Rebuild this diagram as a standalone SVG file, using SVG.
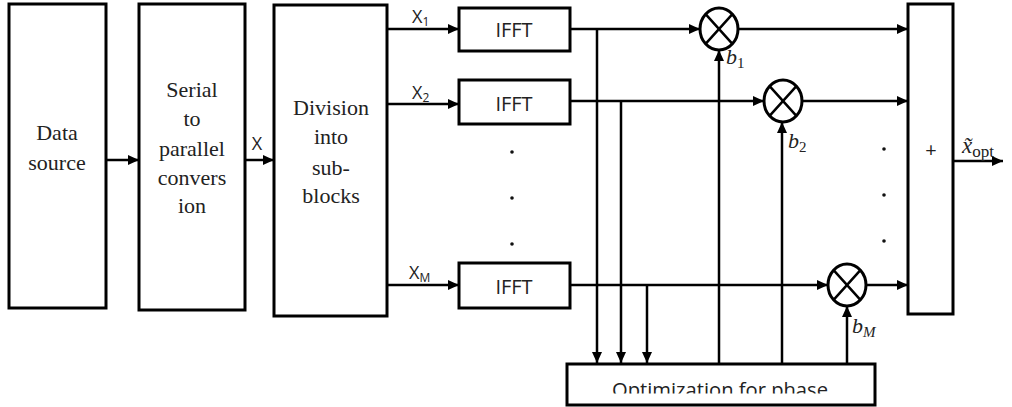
<svg xmlns="http://www.w3.org/2000/svg" width="1012" height="407" viewBox="0 0 1012 407">
<style>
.box{fill:#fff;stroke:#000;stroke-width:3}
.ln{fill:none;stroke:#000;stroke-width:2.5}
.arr{marker-end:url(#ah)}
.serif{font-family:"Liberation Serif","Times New Roman",serif;font-size:22px;fill:#222;text-anchor:middle}
.sans{font-family:"Open Sans","Liberation Sans",sans-serif;fill:#222}
.math{font-family:"Liberation Serif","DejaVu Serif",serif;font-style:italic;fill:#222}
.mul{fill:#fff;stroke:#000;stroke-width:3}
.dot{fill:#111}
</style>
<defs>
<marker id="ah" markerUnits="userSpaceOnUse" markerWidth="11" markerHeight="10" refX="11" refY="5" orient="auto">
<path d="M0,0 L11,5 L0,10 z" fill="#000"/>
</marker>
<clipPath id="optclip"><rect x="567" y="364" width="308" height="29.5"/></clipPath>
</defs>
<g id="connectors">
<line class="ln arr" x1="106" y1="160" x2="139" y2="160"/>
<line class="ln arr" x1="245" y1="160" x2="274" y2="160"/>
<line class="ln arr" x1="387" y1="29" x2="459" y2="29"/>
<line class="ln arr" x1="387" y1="104" x2="459" y2="104"/>
<line class="ln arr" x1="387" y1="285" x2="459" y2="285"/>
<line class="ln arr" x1="570" y1="29" x2="700" y2="29"/>
<line class="ln arr" x1="570" y1="101" x2="764" y2="101"/>
<line class="ln arr" x1="570" y1="285" x2="828" y2="285"/>
<line class="ln arr" x1="738" y1="29" x2="908" y2="29"/>
<line class="ln arr" x1="802" y1="101" x2="908" y2="101"/>
<line class="ln arr" x1="866" y1="285" x2="908" y2="285"/>
<line class="ln arr" x1="597" y1="29" x2="597" y2="363"/>
<line class="ln arr" x1="621" y1="101" x2="621" y2="363"/>
<line class="ln arr" x1="647" y1="285" x2="647" y2="363"/>
<line class="ln arr" x1="719" y1="363" x2="719" y2="50"/>
<line class="ln arr" x1="782" y1="363" x2="782" y2="122"/>
<line class="ln arr" x1="847" y1="363" x2="847" y2="306"/>
<line class="ln arr" x1="953" y1="161" x2="1003" y2="161"/>
</g>
<g id="data-source">
<rect class="box" x="9" y="4" width="97" height="304"/>
<text class="serif" x="57" y="140">Data</text>
<text class="serif" x="57" y="170">source</text>
</g>
<g id="serial-parallel">
<rect class="box" x="139" y="4" width="106" height="306"/>
<text class="serif" x="192" y="97">Serial</text>
<text class="serif" x="192" y="126">to</text>
<text class="serif" x="192" y="156">parallel</text>
<text class="serif" x="192" y="185">convers</text>
<text class="serif" x="192" y="213">ion</text>
</g>
<text class="sans" x="257" y="150" font-size="18" text-anchor="middle">X</text>
<g id="division">
<rect class="box" x="274" y="5" width="113" height="311"/>
<text class="serif" x="331" y="115">Division</text>
<text class="serif" x="331" y="144">into</text>
<text class="serif" x="331" y="175">sub-</text>
<text class="serif" x="331" y="203">blocks</text>
</g>
<g id="labels-x">
<text class="sans" x="412" y="23" font-size="18">X<tspan font-size="12" dy="3">1</tspan></text>
<text class="sans" x="412" y="99" font-size="18">X<tspan font-size="12" dy="3">2</tspan></text>
<text class="sans" x="409" y="279" font-size="18">X<tspan font-size="12" dy="3">M</tspan></text>
</g>
<g id="ifft1">
<rect class="box" x="459" y="8" width="111" height="43"/>
<text class="sans" x="514" y="37" font-size="20" text-anchor="middle">IFFT</text>
</g>
<g id="ifft2">
<rect class="box" x="459" y="80" width="111" height="44"/>
<text class="sans" x="514" y="111" font-size="20" text-anchor="middle">IFFT</text>
</g>
<g id="ifftM">
<rect class="box" x="459" y="263" width="111" height="45"/>
<text class="sans" x="514" y="294" font-size="20" text-anchor="middle">IFFT</text>
</g>
<g id="dots-left">
<circle class="dot" cx="512" cy="152" r="1.8"/>
<circle class="dot" cx="512" cy="198" r="1.8"/>
<circle class="dot" cx="512" cy="244" r="1.8"/>
</g>
<g id="mult1">
<ellipse class="mul" cx="719" cy="29" rx="19" ry="21"/>
<path class="ln" d="M705.6,14.2 L732.4,43.8 M732.4,14.2 L705.6,43.8"/>
</g>
<g id="mult2">
<ellipse class="mul" cx="783" cy="101" rx="19" ry="21"/>
<path class="ln" d="M769.6,86.2 L796.4,115.8 M796.4,86.2 L769.6,115.8"/>
</g>
<g id="multM">
<ellipse class="mul" cx="847" cy="285" rx="19" ry="21"/>
<path class="ln" d="M833.6,270.2 L860.4,299.8 M860.4,270.2 L833.6,299.8"/>
</g>
<g id="labels-b">
<text class="math" x="726" y="64" font-size="22">b<tspan font-style="normal" font-size="15" dy="4">1</tspan></text>
<text class="math" x="788" y="148" font-size="22">b<tspan font-style="normal" font-size="15" dy="4">2</tspan></text>
<text class="math" x="852" y="333" font-size="22">b<tspan font-size="15" dy="4">M</tspan></text>
</g>
<g id="dots-right">
<circle class="dot" cx="884" cy="149" r="1.8"/>
<circle class="dot" cx="884" cy="195" r="1.8"/>
<circle class="dot" cx="884" cy="241" r="1.8"/>
</g>
<g id="sum">
<rect class="box" x="908" y="4" width="45" height="310"/>
<text class="sans" x="931" y="157" font-size="20" text-anchor="middle" fill="#444">+</text>
</g>
<g id="output-label">
<text class="math" x="962" y="153" font-size="23">x̃<tspan font-style="normal" font-size="17" dy="4">opt</tspan></text>
</g>
<g id="optimization">
<rect class="box" x="567" y="364" width="308" height="41"/>
<text class="sans" x="720" y="397" font-size="20" text-anchor="middle" textLength="216" lengthAdjust="spacingAndGlyphs" clip-path="url(#optclip)">Optimization for phase</text>
</g>
</svg>
